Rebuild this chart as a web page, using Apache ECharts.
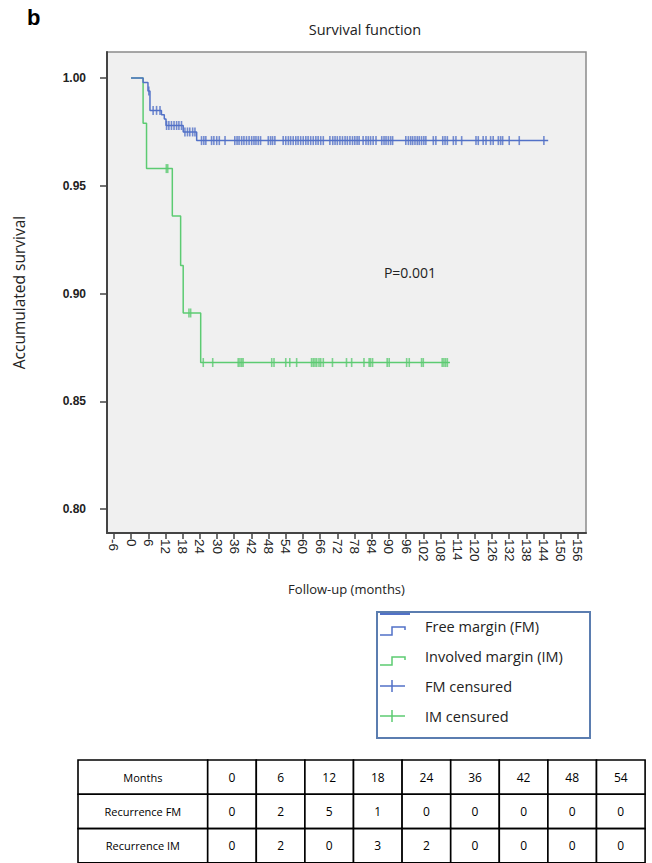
<!DOCTYPE html>
<html>
<head>
<meta charset="utf-8">
<script src="https://cdn.jsdelivr.net/npm/echarts@6/dist/echarts.min.js"></script>
<style>
  html, body { margin: 0; padding: 0; background: #fff; }
  #chart { width: 652px; height: 863px; }
</style>
</head>
<body>
<div id="chart"></div>
<script>
// Kaplan-Meier steps: [month, survival]
const fmSteps = [[0, 1], [4.2, 0.998], [5.9, 0.994], [6.6, 0.985], [10.6, 0.983], [11.6, 0.981], [12.2, 0.978], [18.2, 0.975], [22.9, 0.971], [145.6, 0.971]];
const imSteps = [[0, 1], [4.2, 0.979], [5.4, 0.958], [14.4, 0.936], [17.3, 0.913], [18.2, 0.891], [24.3, 0.868], [111.3, 0.868]];

// censored times (months)
const fmCensored = [6.2, 7.7, 8.9, 10.1, 12.4, 13.2, 14.1, 15.0, 15.9, 16.7, 17.6, 18.8, 19.7, 20.5, 21.5, 22.3,
  24.6, 25.4, 26.1, 28.1, 28.9, 29.9, 30.8, 32.8, 36.2, 37.0, 37.7, 38.6, 39.4, 40.3, 41.2, 42.1, 42.9, 43.6, 44.4, 45.2,
  47.9, 48.7, 49.4, 50.2, 53.1, 54.0, 54.9, 55.7, 56.6, 57.5, 58.3, 59.2, 60.1, 61.0, 61.8, 62.7, 63.6, 64.5, 65.3, 66.2, 67.1,
  69.4, 70.4, 71.2, 72.0, 72.9, 73.8, 74.7, 75.5, 76.4, 77.3, 78.1, 78.9, 79.6, 81.0, 82.0, 82.8, 83.6, 84.5, 85.5,
  87.5, 88.3, 89.0, 89.8, 90.6, 91.3, 95.9, 96.8, 97.6, 98.3, 99.1, 99.9, 100.6, 101.4, 102.2, 102.9, 105.5, 106.4,
  108.8, 109.6, 110.4, 112.5, 113.4, 115.4, 120.4, 121.2, 122.9, 123.9, 125.5, 126.4, 128.2, 129.0, 129.7, 132.0, 135.5, 144.1];
const imCensored = [12.3, 12.8, 20.2, 20.8, 25.2, 28.5, 37.4, 38.0, 38.6, 39.1, 49.1, 49.9, 54.0, 55.4, 57.8,
  63.0, 63.6, 64.2, 64.8, 65.6, 66.2, 67.1, 70.3, 75.2, 77.0, 81.3, 83.1, 83.6, 84.3, 89.4, 90.1, 96.2, 97.1,
  101.4, 102.0, 108.6, 109.2, 109.8, 110.4];

const xTicks = [-6, 0, 6, 12, 18, 24, 30, 36, 42, 48, 54, 60, 66, 72, 78, 84, 90, 96, 102, 108, 114, 120, 126, 132, 138, 144, 150, 156];
const yTicks = [0.80, 0.85, 0.90, 0.95, 1.00];

const tableHead = 'Months';
const tableMonths = [0, 6, 12, 18, 24, 36, 42, 48, 54];
const rowNames = ['Recurrence FM', 'Recurrence IM'];
const recurFM = [0, 2, 5, 1, 0, 0, 0, 0, 0];
const recurIM = [0, 2, 0, 3, 2, 0, 0, 0, 0];

const legendNames = ['Free margin (FM)', 'Involved margin (IM)', 'FM censured', 'IM censured'];

const BLUE = '#5271c7';
const GREEN = '#5ccb72';
const FONT = '"Open Sans"';

// survival level of a step curve at time t
function levelAt(steps, t) {
  let v = steps[0][1];
  for (const s of steps) { if (s[0] <= t) v = s[1]; }
  return v;
}

const chart = echarts.init(document.getElementById('chart'), null, { renderer: 'svg' });

// legend box + table drawn as graphics
const graphics = [];
graphics.push({ type: 'text', left: 27, top: 6, style: { text: 'b', font: 'bold 22px "Liberation Sans"', fill: '#000' } });
graphics.push({ type: 'text', x: 365, y: 29, style: { text: 'Survival function', font: '14.5px ' + FONT, fill: '#222', align: 'center', verticalAlign: 'middle' } });
graphics.push({ type: 'text', x: 410, y: 272, style: { text: 'P=0.001', font: '14px ' + FONT, fill: '#222', align: 'center', verticalAlign: 'middle' } });

const lgX = 377, lgY = 612, lgW = 213, lgH = 126;
graphics.push({ type: 'rect', shape: { x: lgX, y: lgY, width: lgW, height: lgH }, style: { fill: '#fff', stroke: '#5b7db0', lineWidth: 2 } });
graphics.push({ type: 'line', shape: { x1: 380, y1: 614, x2: 410, y2: 614 }, style: { stroke: BLUE, lineWidth: 2 } });
const rowY = [626, 656, 686, 716];
[BLUE, GREEN].forEach((c, i) => {
  const y = rowY[i];
  graphics.push({ type: 'polyline', shape: { points: [[380, y + 9], [392, y + 9], [392, y + 1], [405, y + 1], [405, y + 4]] }, style: { stroke: c, lineWidth: 1.5, fill: null } });
});
[BLUE, GREEN].forEach((c, i) => {
  const y = rowY[i + 2];
  graphics.push({ type: 'line', shape: { x1: 380, y1: y, x2: 405, y2: y }, style: { stroke: c, lineWidth: 1.5 } });
  graphics.push({ type: 'line', shape: { x1: 392, y1: y - 6, x2: 392, y2: y + 6 }, style: { stroke: c, lineWidth: 1.5 } });
});
legendNames.forEach((n, i) => {
  graphics.push({ type: 'text', x: 425, y: rowY[i], style: { text: n, font: '14.5px ' + FONT, fill: '#222', verticalAlign: 'middle' } });
});

// table
const tX = 78, tY = 760, firstW = 129.7, colW = 48.6, rowH = 34.3;
const rows = [[tableHead].concat(tableMonths), [rowNames[0]].concat(recurFM), [rowNames[1]].concat(recurIM)];
rows.forEach((r, ri) => {
  r.forEach((cell, ci) => {
    const x = ci === 0 ? tX : tX + firstW + (ci - 1) * colW;
    const w = ci === 0 ? firstW : colW;
    const y = tY + ri * rowH;
    graphics.push({ type: 'rect', shape: { x: x, y: y, width: w, height: rowH }, style: { fill: '#fff', stroke: '#000', lineWidth: 1.6 } });
    graphics.push({ type: 'text', x: x + w / 2, y: y + rowH / 2, style: { text: String(cell), font: (ci === 0 ? '11px ' : '12px ') + FONT, fill: '#000', align: 'center', verticalAlign: 'middle' } });
  });
});

const option = {
  animation: false,
  backgroundColor: '#fff',
  grid: { left: 107, right: 66, top: 52, bottom: 330, show: true, backgroundColor: '#f0f0f0', borderColor: '#8a8a8a', borderWidth: 1.5 },
  xAxis: {
    type: 'value', min: -8.4, max: 158.8,
    name: 'Follow-up (months)', nameLocation: 'middle', nameGap: 49,
    nameTextStyle: { fontSize: 13, fontFamily: 'Open Sans', color: '#222' },
    axisLine: { show: true, onZero: false, lineStyle: { color: '#444', width: 2 } },
    axisTick: { show: true, customValues: xTicks, length: 6, lineStyle: { color: '#444', width: 1.5 } },
    axisLabel: { customValues: xTicks, rotate: -90, fontSize: 13.5, fontFamily: 'Liberation Sans', color: '#222', margin: 6 },
    splitLine: { show: false }
  },
  yAxis: {
    type: 'value', min: 0.7889, max: 1.0121,
    name: 'Accumulated survival', nameLocation: 'middle', nameGap: 80,
    nameTextStyle: { fontSize: 15.5, fontFamily: 'Open Sans', color: '#222' },
    axisLine: { show: true, onZero: false, lineStyle: { color: '#444', width: 2 } },
    axisTick: { show: true, customValues: yTicks, length: 7, lineStyle: { color: '#444', width: 1.5 } },
    axisLabel: { customValues: yTicks, formatter: v => v.toFixed(2), fontSize: 12, fontWeight: 'bold', fontFamily: 'Liberation Sans', color: '#222', margin: 21 },
    splitLine: { show: false }
  },
  series: [
    { name: legendNames[0], type: 'line', step: 'end', data: fmSteps, showSymbol: false, lineStyle: { color: BLUE, width: 1.5 }, z: 3 },
    { name: legendNames[1], type: 'line', step: 'end', data: imSteps, showSymbol: false, lineStyle: { color: GREEN, width: 1.5 }, z: 2 },
    { name: legendNames[2], type: 'scatter', data: fmCensored.map(t => [t, levelAt(fmSteps, t)]), symbol: 'rect', symbolSize: [1.6, 9], itemStyle: { color: BLUE }, z: 4 },
    { name: legendNames[3], type: 'scatter', data: imCensored.map(t => [t, levelAt(imSteps, t)]), symbol: 'rect', symbolSize: [1.6, 9], itemStyle: { color: GREEN }, z: 4 }
  ],
  graphic: graphics
};
chart.setOption(option);
</script>
</body>
</html>
